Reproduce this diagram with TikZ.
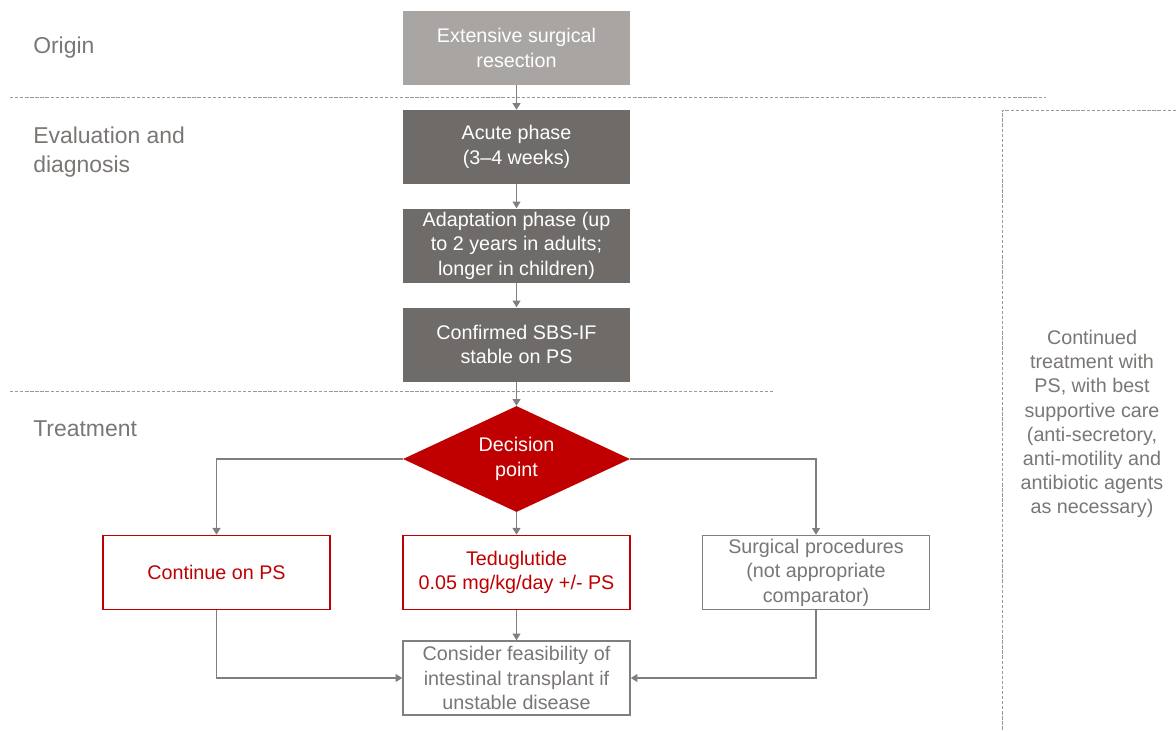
\documentclass[tikz,border=0pt]{standalone}
\usepackage{fontspec}
\setmainfont{Liberation Sans}
\usetikzlibrary{arrows.meta,shapes.geometric}
\definecolor{lgray}{HTML}{A9A5A3}
\definecolor{dgray}{HTML}{6F6B69}
\definecolor{myred}{HTML}{C00000}
\definecolor{txtgray}{HTML}{7A7674}
\definecolor{lngray}{HTML}{7F7F7F}
\tikzset{
  box/.style={rectangle, minimum width=170.25pt, minimum height=55.5pt, align=center, inner sep=2pt, font=\fontsize{14.8}{18.4}\selectfont},
  lightbox/.style={box, fill=lgray, text=white},
  darkbox/.style={box, fill=dgray, text=white},
  redbox/.style={box, draw=myred, line width=1.3pt, text=myred, fill=white},
  graybox/.style={box, draw=lngray, line width=1.2pt, text=txtgray, fill=white},
  decision/.style={diamond, aspect=2.14, fill=myred, text=white, align=center, inner sep=0pt, minimum width=170.25pt, minimum height=79.5pt, font=\fontsize{14.8}{18.4}\selectfont},
  phase/.style={anchor=west, align=left, inner sep=0pt, text=txtgray, font=\fontsize{17.2}{21.8}\selectfont},
  conn/.style={draw=lngray, line width=0.8pt, -{Triangle[width=6pt,length=5pt]}},
  sep/.style={draw=lngray!80, line width=0.6pt, dash pattern=on 2.5pt off 1.3pt},
}
\begin{document}
\begin{tikzpicture}[x=0.75pt,y=-0.75pt]
\useasboundingbox (0,0) rectangle (1176,731);
% separators
\draw[sep] (10,97) -- (1046,97);
\draw[sep] (10,391) -- (773,391);
\draw[sep] (1176,110) -- (1002,110) -- (1002,731);
% phase labels
\node[phase] (lorigin) at (33,48) {Origin};
\node[phase] (leval) at (33,152) {Evaluation and\\diagnosis};
\node[phase] (ltreat) at (33,429) {Treatment};
% nodes
\node[lightbox] (origin) at (516.5,48) {Extensive surgical\\resection};
\node[darkbox] (acute) at (516.5,147) {Acute phase\\(3--4 weeks)};
\node[darkbox] (adapt) at (516.5,245.5) {Adaptation phase (up\\to 2 years in adults;\\longer in children)};
\node[darkbox] (conf) at (516.5,344.5) {Confirmed SBS-IF\\stable on PS};
\node[decision] (dec) at (516.5,459) {Decision\\point};
\node[redbox] (cont) at (216.5,572.5) {Continue on PS};
\node[redbox] (ted) at (516.5,572.5) {Teduglutide\\0.05 mg/kg/day +/- PS};
\node[graybox] (surg) at (816,572.5) {Surgical procedures\\(not appropriate\\comparator)};
\node[graybox] (cons) at (516.5,678) {Consider feasibility of\\intestinal transplant if\\unstable disease};
\node[align=center, text=txtgray, font=\fontsize{14.8}{18.1}\selectfont] (cont2) at (1092,424) {Continued\\treatment with\\PS, with best\\supportive care\\(anti-secretory,\\anti-motility and\\antibiotic agents\\as necessary)};
% connectors
\draw[conn] (origin) -- (acute);
\draw[conn] (acute) -- (adapt);
\draw[conn] (adapt) -- (conf);
\draw[conn] (conf) -- (dec);
\draw[conn] (dec.west) -| (cont.north);
\draw[conn] (dec) -- (ted);
\draw[conn] (dec.east) -| (surg.north);
\draw[conn] (ted) -- (cons);
\draw[conn] (cont.south) |- (cons.west);
\draw[conn] (surg.south) |- (cons.east);
\end{tikzpicture}
\end{document}
